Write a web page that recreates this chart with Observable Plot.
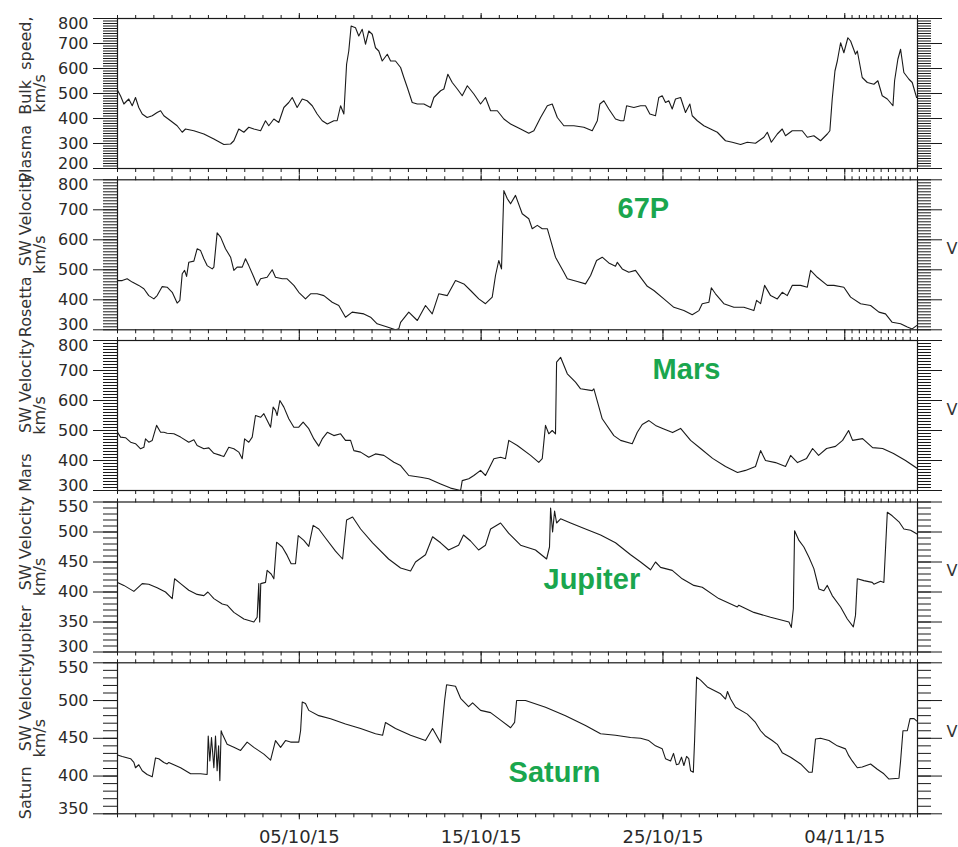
<!DOCTYPE html>
<html><head><meta charset="utf-8">
<script src="https://cdn.jsdelivr.net/npm/d3@7"></script>
<script src="https://cdn.jsdelivr.net/npm/@observablehq/plot@0.6"></script>
<style>
body{margin:0;background:#fff}
#chart{position:relative;width:958px;height:847px;overflow:hidden;background:#fff}
#chart svg{position:absolute;left:0;top:0}
</style></head><body><div id="chart"></div>
<script>
// ---- time axis ----
const startDay = "2015-09-25";
const endDay = "2015-11-08";
const dateTickLabels = ["2015-10-05", "2015-10-15", "2015-10-25", "2015-11-04"];

// ---- panel titles ----
const yTitles = ["Plasma  Bulk  speed,", "Rosetta  SW Velocity", "Mars    SW Velocity", "Jupiter   SW Velocity", "Saturn   SW Velocity"];
const yUnit = "km/s";
const bodyNames = ["67P", "Mars", "Jupiter", "Saturn"];

// ---- y tick labels ----
const bulkTicks = [200, 300, 400, 500, 600, 700, 800];
const rosettaTicks = [300, 400, 500, 600, 700, 800];
const marsTicks = [300, 400, 500, 600, 700, 800];
const jupiterTicks = [300, 350, 400, 450, 500, 550];
const saturnTicks = [350, 400, 450, 500, 550];

// ---- series (days since 25/09/15, km/s) ----
const bulkDay = [0.00,0.17,0.35,0.62,0.81,0.99,1.17,1.36,1.63,1.91,2.18,2.37,2.55,2.92,3.28,3.56,3.74,4.20,4.75,5.30,5.85,6.22,6.40,6.67,6.95,7.22,7.50,7.87,8.14,8.32,8.60,8.87,9.15,9.42,9.61,9.88,10.16,10.43,10.71,10.98,11.26,11.54,11.90,12.08,12.27,12.45,12.60,12.72,12.85,13.09,13.27,13.46,13.64,13.82,14.01,14.19,14.37,14.56,14.84,15.02,15.29,15.57,15.75,15.94,16.21,16.49,16.85,17.22,17.40,17.77,17.95,18.17,18.41,18.69,18.96,19.24,19.60,19.97,20.24,20.52,20.89,21.25,21.62,22.17,22.62,22.90,23.27,23.64,23.91,24.19,24.55,25.10,25.65,26.11,26.39,26.53,26.75,27.02,27.39,27.67,27.85,28.00,28.40,28.77,29.04,29.28,29.59,29.77,29.96,30.14,30.32,30.51,30.69,30.97,31.24,31.48,31.61,31.89,32.25,32.62,32.99,33.44,33.81,34.27,34.64,35.09,35.55,35.74,35.96,36.29,36.56,36.74,37.11,37.66,37.94,38.30,38.67,39.04,39.18,39.31,39.46,39.59,39.77,39.95,40.17,40.32,40.59,40.69,40.96,41.24,41.60,41.82,42.06,42.34,42.65,42.74,42.92,43.07,43.25,43.53,43.71,43.95];
const bulkSpeed = [513,490,458,478,451,484,444,418,404,411,424,431,411,391,371,345,358,351,338,318,296,298,311,358,345,365,358,351,391,371,398,384,444,464,484,444,478,471,451,418,391,378,391,391,451,418,617,670,770,763,730,757,697,750,737,683,670,630,657,630,630,604,564,524,464,458,458,444,484,511,518,577,544,518,491,531,498,458,484,431,431,398,378,358,341,351,404,451,458,404,371,371,365,351,391,458,471,438,398,391,391,451,444,451,451,418,411,484,491,464,471,438,478,484,424,458,411,391,371,358,345,311,305,296,305,301,325,345,305,338,358,331,351,351,325,331,311,338,351,478,590,630,703,663,723,710,657,670,564,544,537,551,491,478,451,551,637,677,584,557,544,484];

const rosettaDay = [0.00,0.26,0.53,0.81,1.17,1.45,1.72,2.00,2.18,2.46,2.73,3.01,3.28,3.43,3.56,3.69,3.80,3.92,4.20,4.38,4.57,4.75,4.93,5.21,5.30,5.48,5.67,5.94,6.22,6.40,6.58,6.86,7.04,7.22,7.50,7.68,7.87,8.23,8.51,8.69,9.06,9.33,9.70,9.97,10.34,10.62,10.98,11.35,11.81,12.17,12.54,12.91,13.55,13.92,14.28,14.84,15.29,15.47,15.57,16.02,16.49,16.94,17.31,17.67,18.14,18.59,19.05,19.42,19.87,20.24,20.61,20.79,20.97,21.12,21.25,21.44,21.62,21.89,22.26,22.62,22.81,23.09,23.36,23.64,24.09,24.55,24.74,25.29,25.74,26.02,26.35,26.66,27.02,27.39,27.49,27.76,28.12,28.49,28.77,29.14,29.50,30.05,30.60,31.15,31.61,31.98,32.16,32.53,32.66,32.89,33.35,33.90,34.45,35.00,35.15,35.37,35.59,35.92,36.29,36.56,36.84,37.11,37.57,37.94,38.12,38.49,39.04,39.40,39.95,40.32,40.87,41.42,41.88,42.24,42.61,43.07,43.44,43.71,43.95];
const rosettaSpeed = [464,464,470,459,448,437,414,403,414,444,442,425,389,398,487,498,478,525,529,570,564,537,514,503,509,623,609,570,542,498,509,509,537,514,475,448,470,475,500,475,470,470,448,425,403,420,420,414,392,381,342,359,353,342,320,309,300,303,325,359,331,381,353,420,414,464,453,431,403,387,409,481,531,503,764,737,720,748,687,670,637,648,637,637,542,492,470,461,453,481,531,542,523,512,525,503,492,498,475,445,431,403,375,364,350,364,387,392,440,420,387,375,375,364,398,387,448,414,403,425,414,448,448,442,498,475,448,448,442,409,387,381,359,353,325,320,309,303,314];

const marsDay = [0.00,0.17,0.44,0.72,0.99,1.27,1.45,1.54,1.72,1.91,2.15,2.37,2.55,2.73,3.10,3.47,3.92,4.20,4.38,4.75,5.02,5.30,5.67,5.85,6.12,6.40,6.67,6.86,6.99,7.22,7.41,7.59,7.87,8.05,8.42,8.56,8.69,8.78,8.93,9.15,9.42,9.70,9.97,10.21,10.52,10.80,11.07,11.26,11.54,11.90,12.27,12.54,12.82,13.00,13.37,13.82,14.19,14.65,15.20,15.57,16.02,16.67,17.12,17.77,18.32,18.87,18.96,19.32,19.60,19.97,20.24,20.70,21.07,21.34,21.52,21.99,22.72,23.17,23.36,23.54,23.72,23.91,24.09,24.15,24.37,24.74,25.19,25.47,26.11,26.20,26.66,27.30,27.67,28.31,28.59,28.86,29.23,29.59,29.98,30.53,30.97,31.52,32.07,32.73,33.44,34.10,34.54,35.09,35.37,35.64,36.19,36.74,37.02,37.40,37.90,38.23,38.56,39.00,39.49,39.88,40.21,40.43,40.98,41.53,42.08,42.68,43.34,44.00];
const marsSpeed = [494,478,476,461,456,439,444,472,461,467,517,494,494,491,489,478,461,469,450,439,442,424,417,413,444,439,428,406,472,461,478,550,544,556,511,578,567,550,600,578,539,511,511,528,506,472,448,472,494,483,489,467,467,433,428,411,422,417,394,383,350,344,339,322,308,300,333,339,350,367,350,406,411,406,467,450,417,394,406,517,489,500,489,728,744,689,661,639,633,639,539,483,467,456,494,520,533,517,507,493,507,467,440,407,380,360,367,380,433,400,393,380,417,393,407,440,417,440,447,467,500,467,473,443,440,423,400,373];

const jupiterDay = [0.00,0.35,0.90,1.36,1.72,2.18,2.64,3.01,3.14,3.47,3.92,4.38,4.75,4.97,5.30,5.76,6.03,6.40,6.95,7.50,7.68,7.77,7.82,7.88,8.14,8.23,8.45,8.60,8.75,9.06,9.33,9.55,9.79,9.94,10.25,10.52,10.76,11.07,11.44,11.99,12.38,12.60,12.93,13.37,14.03,14.91,15.57,16.12,16.39,16.94,17.33,17.77,18.21,18.76,19.03,19.42,19.86,20.24,20.52,21.07,21.51,22.17,22.99,23.60,23.76,23.82,23.93,24.04,24.15,24.37,24.92,25.74,26.57,27.39,28.22,28.77,29.32,29.59,29.87,30.51,31.06,31.70,32.16,33.07,34.09,34.17,35.00,35.92,36.93,37.06,37.17,37.24,37.48,37.75,38.03,38.30,38.58,38.85,39.04,39.31,39.77,40.14,40.47,40.59,40.69,41.05,41.51,41.60,41.97,42.15,42.34,42.61,42.98,43.25,43.62,43.95];
const jupiterSpeed = [416,411,401,414,413,407,400,389,422,414,403,396,394,400,389,380,378,366,355,350,358,414,350,414,416,436,430,422,483,475,461,447,447,494,486,476,511,505,490,468,455,520,525,505,482,455,440,435,450,462,492,482,470,478,495,485,470,478,505,515,498,478,470,455,475,540,500,535,515,522,515,505,495,482,462,450,437,450,441,436,422,411,408,389,375,378,366,358,350,341,372,502,486,475,458,439,405,402,411,394,375,355,342,361,422,419,416,413,418,416,533,527,517,505,503,497];

const saturnDay = [0.00,0.26,0.72,0.90,0.99,1.17,1.36,1.63,1.91,2.09,2.27,2.55,2.73,2.82,3.10,3.47,4.02,4.29,4.57,4.93,4.99,5.08,5.17,5.30,5.39,5.48,5.56,5.63,5.70,5.76,6.03,6.40,6.77,7.13,7.50,8.05,8.42,8.69,8.97,9.24,9.52,9.97,10.07,10.16,10.34,10.52,11.07,11.72,12.54,13.37,14.19,14.58,14.74,15.29,16.12,16.94,17.33,17.77,17.99,18.10,18.59,18.87,19.31,19.53,19.97,20.52,21.07,21.62,21.84,21.95,22.44,23.54,24.64,25.74,26.57,27.39,28.22,28.77,29.22,29.59,29.96,30.14,30.42,30.58,30.74,30.87,31.02,31.15,31.30,31.42,31.52,31.67,31.74,31.85,32.07,32.44,33.17,33.44,33.55,33.72,33.99,34.64,35.09,35.37,35.64,36.01,36.29,36.56,37.02,37.57,38.03,38.21,38.39,38.67,39.13,39.59,40.04,40.22,40.41,40.69,40.96,41.42,41.79,42.15,42.43,42.98,43.07,43.20,43.44,43.59,43.81,43.95];
const saturnSpeed = [428,426,423,418,411,415,407,402,399,424,423,418,416,418,415,411,403,403,403,402,453,420,451,411,453,407,440,394,460,456,442,438,434,445,438,429,421,447,438,447,445,445,460,498,496,487,480,476,469,463,456,454,471,463,454,447,463,444,500,521,519,503,492,497,487,484,474,464,471,500,500,491,480,467,456,454,451,450,447,440,436,423,420,430,415,416,425,414,426,423,407,405,447,531,527,518,509,502,512,502,491,482,471,460,453,447,442,431,425,416,405,405,449,450,447,440,436,427,420,411,412,416,409,403,396,397,420,460,460,476,476,473];

// ---- build ----
const t0 = new Date(startDay + "T00:00Z");
const t1 = new Date(endDay + "T00:00Z");
const toDate = d => new Date(t0.getTime() + d * 864e5);
const majorX = dateTickLabels.map(s => new Date(s + "T00:00Z"));
const lastMajor = majorX[majorX.length - 1];
const minorX = d3.utcDay.range(t0, lastMajor).concat(
  d3.range(0, 11).map(i => new Date(lastMajor.getTime() + i * 0.4 * 864e5)));

const series = [
  {day: bulkDay, v: bulkSpeed, ticks: bulkTicks, top: 18, bottom: 168, step: 10, titleDy: 6},
  {day: rosettaDay, v: rosettaSpeed, ticks: rosettaTicks, top: 179.3, bottom: 329.3, step: 10, titleDy: 0},
  {day: marsDay, v: marsSpeed, ticks: marsTicks, top: 340, bottom: 490, step: 10, titleDy: 0},
  {day: jupiterDay, v: jupiterSpeed, ticks: jupiterTicks, top: 501.5, bottom: 651.5, step: 10, titleDy: 0},
  {day: saturnDay, v: saturnSpeed, ticks: saturnTicks, top: 662.3, bottom: 813.3, step: 10, titleDy: 0}
];
// label anchors for the planet names (day, value)
const nameAnchor = [[27.5, 702], [29.43, 704], [23.43, 420], [21.51, 405]];

const ink = "#1a1a1a";
const chart = document.getElementById("chart");
series.forEach((p, i) => {
  const lo = p.ticks[0], hi = p.ticks[p.ticks.length - 1];
  const minor = d3.range(lo, hi + 0.001, p.step);
  const data = p.day.map((d, k) => ({t: toDate(d), v: p.v[k]}));
  const marks = [
    Plot.line(data, {x: "t", y: "v", stroke: ink, strokeWidth: 1.1, clip: true}),
    Plot.frame({stroke: ink, strokeWidth: 1.2}),
    // left y axis
    Plot.axisY({anchor: "left", ticks: minor, tickSize: 14, tickFormat: () => "", label: null, stroke: ink}),
    Plot.axisY({anchor: "left", ticks: p.ticks, tickSize: 24, tickFormat: () => "", label: null, stroke: ink}),
    Plot.axisY({anchor: "left", ticks: p.ticks.slice(1, -1), tickSize: 0, tickPadding: 29, label: null, fontSize: 16}),
    Plot.axisY({anchor: "left", ticks: [lo], tickSize: 0, tickPadding: 29, label: null, fontSize: 16, dy: -5}),
    Plot.axisY({anchor: "left", ticks: [hi], tickSize: 0, tickPadding: 29, label: null, fontSize: 16, dy: 5}),
    // right y axis
    Plot.axisY({anchor: "right", ticks: minor, tickSize: 13, tickFormat: () => "", label: null, stroke: ink}),
    Plot.axisY({anchor: "right", ticks: p.ticks, tickSize: 24, tickFormat: () => "", label: null, stroke: ink}),
    // x ticks top & bottom
    Plot.axisX({anchor: "top", ticks: minorX, tickSize: 4, tickFormat: () => "", label: null, stroke: ink}),
    Plot.axisX({anchor: "top", ticks: majorX, tickSize: 6, tickFormat: () => "", label: null, stroke: ink}),
    Plot.axisX({anchor: "bottom", ticks: minorX, tickSize: 4, tickFormat: () => "", label: null, stroke: ink}),
    Plot.axisX({anchor: "bottom", ticks: majorX, tickSize: 6, tickFormat: () => "", label: null, stroke: ink}),
    // y titles
    Plot.text([yTitles[i]], {text: d => d, frameAnchor: "left", textAnchor: "middle", dx: -92, dy: p.titleDy, rotate: -90, fontSize: 16, fill: "#333"}),
    Plot.text([yUnit], {text: d => d, frameAnchor: "left", textAnchor: "middle", dx: -78, rotate: -90, fontSize: 16, fill: "#333"})
  ];
  if (i > 0) {
    marks.push(Plot.text(["V"], {text: d => d, frameAnchor: "right", dx: 29, dy: -6, textAnchor: "start", fontSize: 16, fill: "#333"}));
    const [ad, av] = nameAnchor[i - 1];
    marks.push(Plot.text([bodyNames[i - 1]], {x: () => toDate(ad), y: () => av, text: d => d, textAnchor: "start",
      fontSize: 29, fontWeight: "bold", fontFamily: "Liberation Sans, Arial, sans-serif", fill: "#1aa64e"}));
  }
  if (i === series.length - 1) {
    marks.push(Plot.axisX({anchor: "bottom", ticks: majorX, tickSize: 0, tickPadding: 16, tickFormat: d3.utcFormat("%d/%m/%y"), label: null, fontSize: 18}));
  }
  const svg = Plot.plot({
    width: 958, height: 847,
    marginLeft: 117, marginRight: 41, marginTop: p.top, marginBottom: 847 - p.bottom,
    x: {type: "utc", domain: [t0, t1]},
    y: {domain: [lo, hi]},
    style: {background: "transparent", overflow: "visible", fontFamily: "DejaVu Sans, sans-serif", fontSize: "16px", color: "#2a2a2a"},
    marks
  });
  chart.appendChild(svg);
});
</script>
</body></html>
